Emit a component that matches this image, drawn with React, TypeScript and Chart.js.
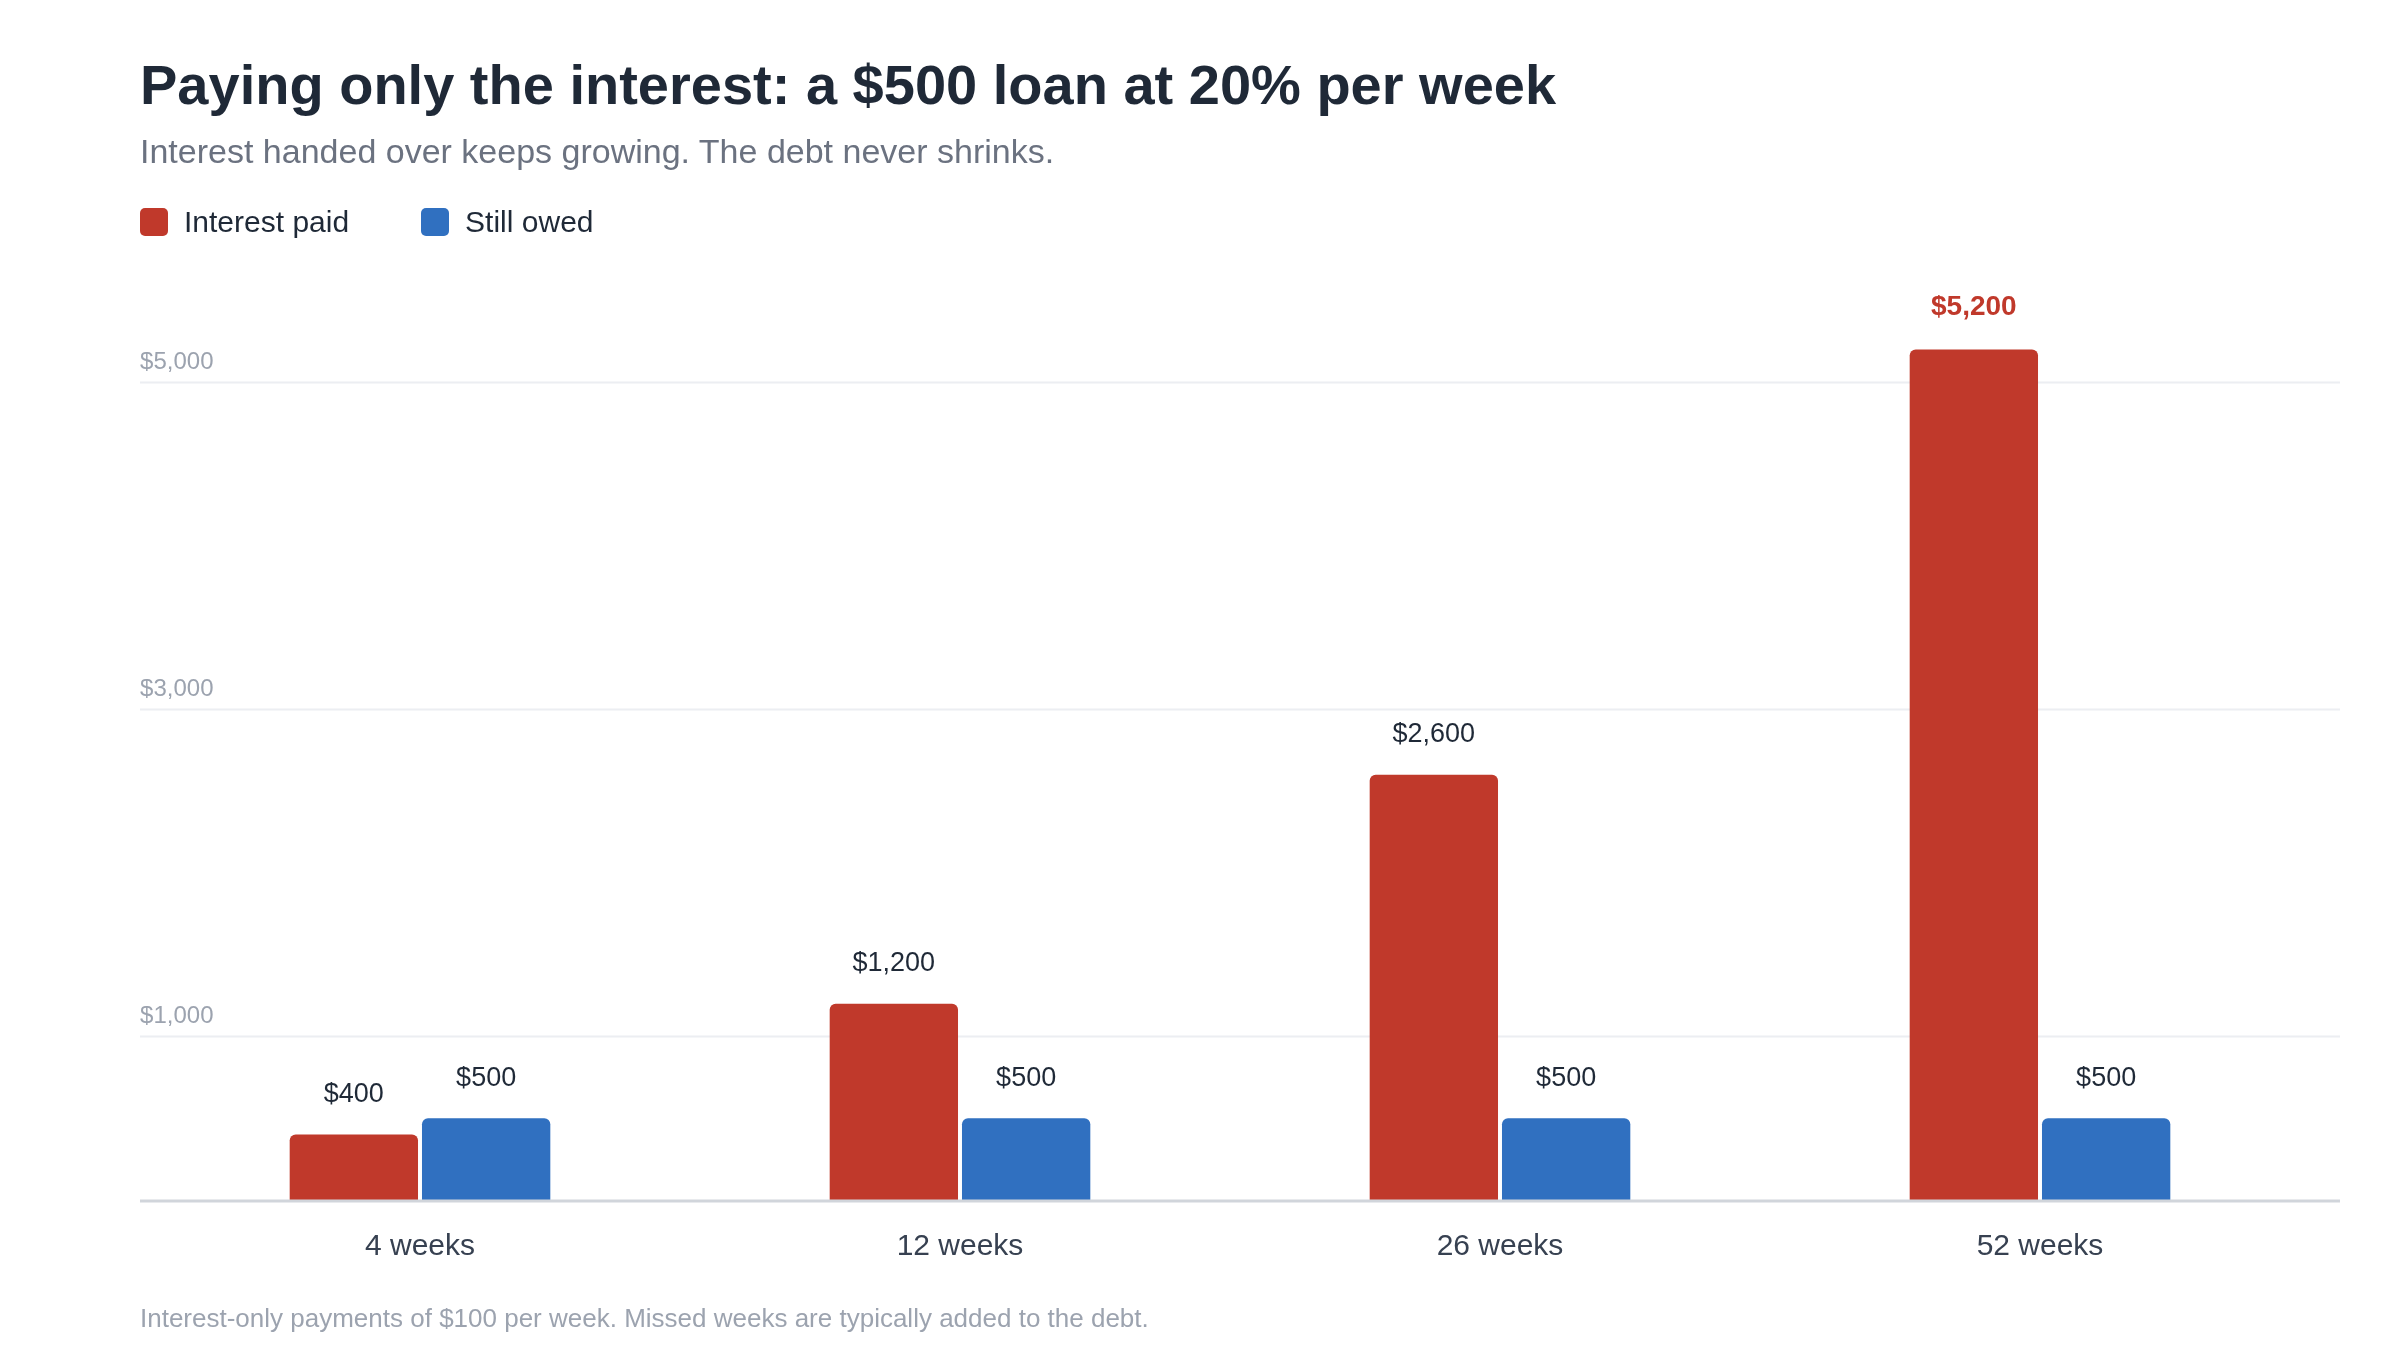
import React, { useEffect, useRef } from "react";
import { Chart, registerables } from "chart.js";

Chart.register(...registerables);

const categories = ["4 weeks", "12 weeks", "26 weeks", "52 weeks"];
const interestPaid = [400, 1200, 2600, 5200];
const stillOwed = [500, 500, 500, 500];
const seriesNames = ["Interest paid", "Still owed"];
const seriesColors = ["#c0392b", "#3070c0"];
const yTicks = [1000, 3000, 5000];
const highlight = { dataset: 0, index: 3 };

const FONT = '"Liberation Sans", Arial, Helvetica, sans-serif';

const money = (v: number) => "$" + v.toLocaleString("en-US");

// grid lines run a little wider than the bars' plot area
const gridPlugin = {
    id: "wideGrid",
    beforeDatasetsDraw(chart: any) {
        const { ctx } = chart;
        const y = chart.scales.y;
        ctx.save();
        ctx.strokeStyle = "#eceef2";
        ctx.lineWidth = 2;
        y.ticks.forEach((t: any) => {
            const py = Math.round(y.getPixelForValue(t.value)) + 0.5;
            ctx.beginPath();
            ctx.moveTo(140, py);
            ctx.lineTo(2340, py);
            ctx.stroke();
        });
        ctx.restore();
    },
    afterDatasetsDraw(chart: any) {
        const { ctx } = chart;
        const y = chart.scales.y;
        const py = y.getPixelForValue(0);
        ctx.save();
        ctx.strokeStyle = "#d1d5db";
        ctx.lineWidth = 3;
        ctx.beginPath();
        ctx.moveTo(140, py + 1);
        ctx.lineTo(2340, py + 1);
        ctx.stroke();
        ctx.restore();
    },
};

const valueLabels = {
    id: "valueLabels",
    afterDatasetsDraw(chart: any) {
        const { ctx } = chart;
        ctx.save();
        ctx.textAlign = "center";
        ctx.textBaseline = "middle";
        chart.data.datasets.forEach((ds: any, di: number) => {
            const meta = chart.getDatasetMeta(di);
            meta.data.forEach((bar: any, i: number) => {
                const hot = di === highlight.dataset && i === highlight.index;
                ctx.font = (hot ? "bold 28px " : "27px ") + FONT;
                ctx.fillStyle = hot ? seriesColors[0] : "#1f2937";
                ctx.fillText(money(ds.data[i]), bar.x, bar.y - (hot ? 42 : 40));
            });
        });
        ctx.restore();
    },
};

const App = () => {
    const canvasRef = useRef<HTMLCanvasElement | null>(null);

    useEffect(() => {
        const ctx = canvasRef.current?.getContext("2d");
        if (!ctx) return;

        const chart = new Chart(ctx, {
            type: "bar",
            data: {
                labels: categories,
                datasets: [interestPaid, stillOwed].map((d, i) => ({
                    label: seriesNames[i],
                    data: d,
                    backgroundColor: seriesColors[i],
                    borderRadius: { topLeft: 6, topRight: 6, bottomLeft: 0, bottomRight: 0 },
                    borderSkipped: "bottom",
                    barPercentage: 0.97,
                    categoryPercentage: 0.49,
                })),
            },
            options: {
                animation: false,
                responsive: true,
                maintainAspectRatio: false,
                layout: { padding: { top: 284, left: 150, right: 90, bottom: 66 } },
                plugins: {
                    legend: { display: false },
                    tooltip: { enabled: false },
                },
                scales: {
                    x: {
                        grid: { display: false, drawTicks: false },
                        border: { display: false },
                        ticks: {
                            padding: 29,
                            color: "#374151",
                            font: { family: FONT, size: 30 },
                        },
                    },
                    y: {
                        min: 0,
                        max: 5600,
                        grid: { display: false, drawTicks: false },
                        border: { display: false },
                        afterBuildTicks: (axis: any) => {
                            axis.ticks = yTicks.map((v) => ({ value: v }));
                        },
                        ticks: {
                            mirror: true,
                            padding: -3.3,
                            labelOffset: -20,
                            color: "#9ca3af",
                            font: { family: FONT, size: 24 },
                            callback: (v: any) => money(Number(v)),
                        },
                    },
                },
            },
            plugins: [gridPlugin, valueLabels],
        });

        return () => {
            chart.destroy();
        };
    }, []);

    return (
        <div style={{ position: "absolute", left: 0, top: 0, width: 2400, height: 1360, overflow: "hidden", background: "#fff", fontFamily: FONT }}>
            <canvas ref={canvasRef} style={{ position: "absolute", left: 0, top: 0 }} />
            <div style={{ position: "absolute", left: 140, top: 57, fontSize: 56, lineHeight: "56px", fontWeight: 700, color: "#1f2937", whiteSpace: "nowrap" }}>
                Paying only the interest: a $500 loan at 20% per week
            </div>
            <div style={{ position: "absolute", left: 140, top: 134, fontSize: 34, lineHeight: "34px", color: "#6b7280", whiteSpace: "nowrap" }}>
                Interest handed over keeps growing. The debt never shrinks.
            </div>
            <div style={{ position: "absolute", left: 140, top: 207, display: "flex", alignItems: "center", height: 30, fontSize: 30, lineHeight: "30px", color: "#1f2937" }}>
                {seriesNames.map((n, i) => (
                    <div key={n} style={{ display: "flex", alignItems: "center", marginRight: i === 0 ? 72 : 0 }}>
                        <span style={{ width: 28, height: 28, borderRadius: 5, background: seriesColors[i], marginRight: 16, display: "inline-block" }} />
                        <span>{n}</span>
                    </div>
                ))}
            </div>
            <div style={{ position: "absolute", left: 140, top: 1305, fontSize: 26, lineHeight: "26px", color: "#9ca3af", whiteSpace: "nowrap" }}>
                Interest-only payments of $100 per week. Missed weeks are typically added to the debt.
            </div>
        </div>
    );
};

export default App;
